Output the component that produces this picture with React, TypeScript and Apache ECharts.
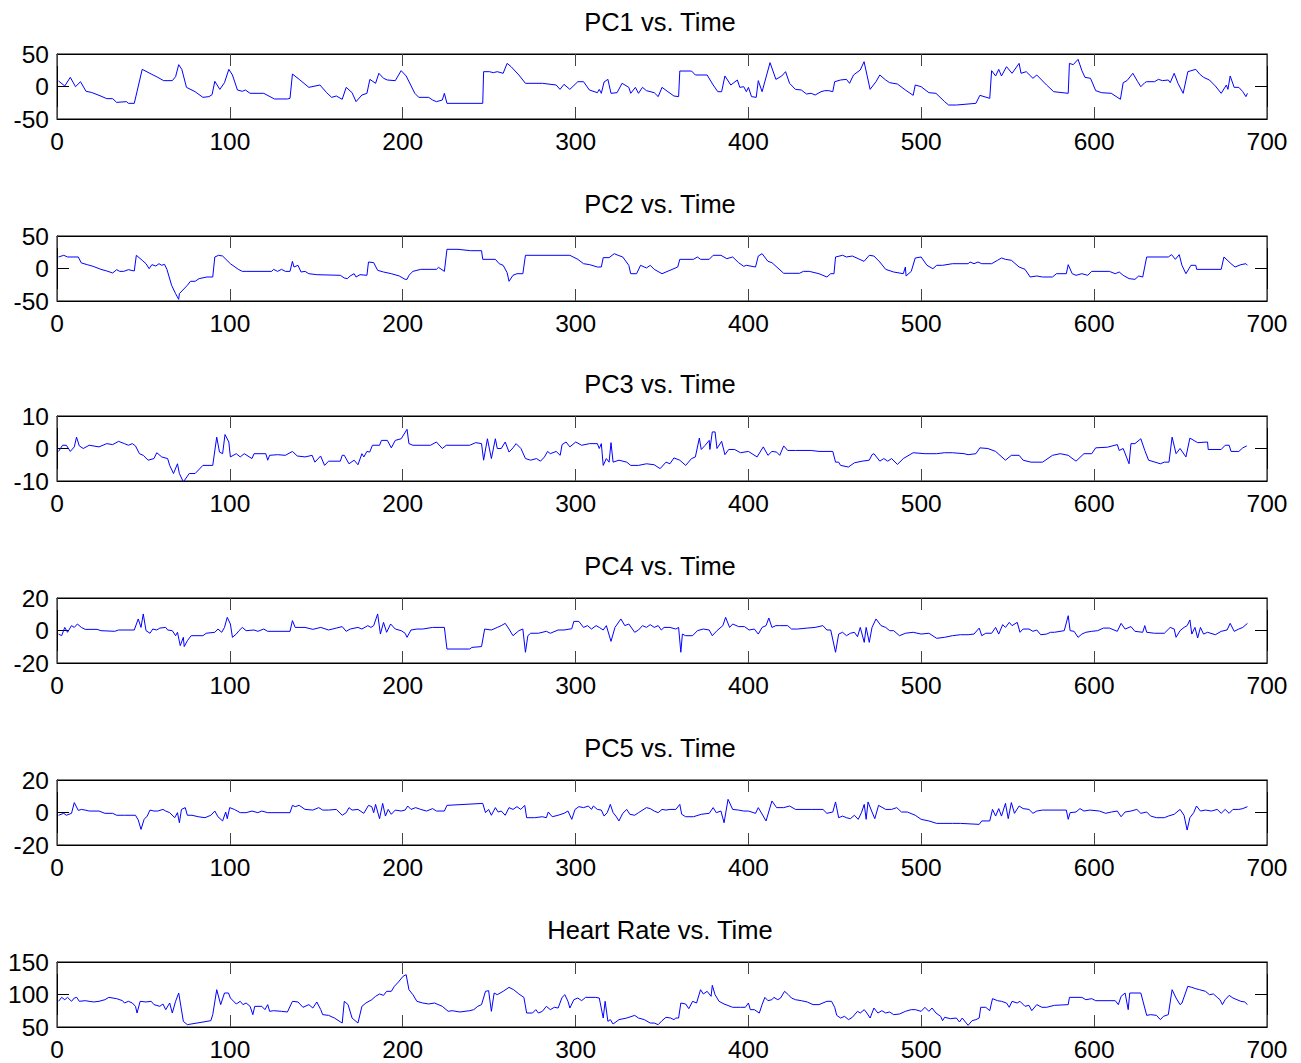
import React, { useEffect, useRef } from "react";
import * as echarts from "echarts";

const titles = ["PC1 vs. Time", "PC2 vs. Time", "PC3 vs. Time", "PC4 vs. Time", "PC5 vs. Time", "Heart Rate vs. Time"];
const xMin = 0;
const xMax = 700;
const xStep = 100;
const yMins = [-50, -50, -10, -20, -20, 50];
const yMaxs = [50, 50, 10, 20, 20, 150];
const ySteps = [50, 50, 10, 20, 20, 50];

const pc1A = [[0.9,8.5],[4.5,0.8],[7.7,14.1],[10.7,-0.3],[13.6,7.4],[16.8,-7.4],[19.8,-9],[24.3,-13.6],[28.8,-18.7],[32.2,-18.7],[34.5,-24.4],[40.2,-23.3],[41.3,-25.9],[44.7,-25.9],[49.3,26.4],[54.5,19.2],[58.3,14.1],[61.7,9],[66.7,9],[68.6,15.1],[70.4,33.6],[72.2,26.4],[74.9,-1.3],[79.9,-8],[84.4,-16.7],[87.9,-15.6],[89.7,-12.6],[91.3,8],[94.2,-4.4],[96.9,5.9],[99.4,26.4],[101.5,17.7],[104.4,-5.4],[107.2,-7.4],[109,-5.4],[111.7,-10.5],[119.6,-10.5],[125.8,-19.2],[133.3,-19.2],[134.8,-18.2],[136.2,19.2],[140.1,11],[145.7,-1.3],[152.1,2.3],[156,-9.5],[158.9,-16.7],[161.6,-14.6],[165,-19.7],[167.3,-1.3],[170.7,-9.5],[173,-23.3],[176.4,-13.1],[179.3,-10.5],[181,11],[184.3,4.9],[186.2,20.3],[188.9,12.6],[191.1,10],[195.7,9],[199.1,24.4],[202,16.2],[207,-10.5],[209.3,-16.7],[215,-16.7],[217.3,-20.8],[219.5,-23.3],[222.9,-20.8],[224.1,-10.5],[225.6,-25.9],[246.3,-25.9],[246.8,22.8],[250.2,22.8],[252.4,21.3],[254.7,22.8],[258.1,20.3],[260.4,35.6],[262.7,30.5],[267.2,17.7],[271,4.9],[280.8,4.9],[288.8,2.3],[291,-4.4],[293.3,3.3],[296.7,-4.4],[301.3,7.4],[304.6,7.4],[308,-5.4],[312.6,-9.5],[313.7,-4.4],[314.9,-10.5],[316.5,6.9],[318.7,11],[320.5,-10.5],[324,-9.5],[326.9,4.9],[330.8,-1.3],[331.9,-10.5],[334.6,-1.3],[336.4,-10.5],[338.7,-1.3],[341,-6.4],[345.5,-9.5]];
const pc1B = [[347.8,-15.6],[350,-1.3],[353.4,-8],[356.9,-14.6],[359.6,-15.6],[360.3,23.8],[367.1,23.8],[369.3,17.7],[376.1,17.7],[379.6,2.3],[382.3,-8],[384.5,-8],[386.4,16.2],[389.8,2.3],[393.6,10],[395,-1.3],[397.3,-0.3],[398.8,-8],[400,-1.3],[401.8,-15.6],[404.5,-16.7],[405.7,9],[407.9,-8],[412.5,36.7],[415.9,11],[419.3,16.2],[421.5,22.8],[423.8,4.9],[427.2,-4.4],[430.6,-5.4],[433.6,-11.5],[436.3,-10.5],[438.6,-13.1],[442,-8],[444.2,-6.4],[446.5,-6.4],[448.8,-8],[449.9,7.4],[453.3,10],[456.7,11],[458.5,4.9],[460.8,17.7],[464.7,25.4],[466.9,38.2],[470.4,-4.4],[473.8,7.4],[476,17.7],[479.4,10],[481.7,5.9],[486.2,3.8],[490.8,-5.4],[495.3,-13.6],[496.5,2.3],[499.9,-0.3],[504.4,-9.5],[508.5,-10.5],[513.5,-23.3],[515.8,-28.5],[520.3,-28.5],[531.6,-25.9],[533.9,-13.6],[539.6,-18.2],[540.7,24.4],[543,16.2],[544.8,26.4],[546.4,16.2],[549.3,30.5],[552.5,20.3],[556.6,35.6],[557.7,20.3],[560.7,22.8],[564.6,12.6],[566.8,17.7],[572.5,2.3],[576.6,-8],[585,-10.5],[585.7,35.6],[587.9,33.6],[590.7,41.8],[592.9,24.4],[594.7,14.1],[597.9,12.6],[600.9,-6.4],[604.3,-9.5],[609.9,-10.5],[615.2,-19.7],[616.8,5.9],[619,9],[622.4,20.3],[625.2,7.4],[627,-0.3],[629.3,5.9],[630.4,7.4],[634.9,7.4],[637.2,11],[639.5,9],[642.9,10],[644,5.9],[646.3,20.3],[648.5,4.9],[651.5,-10.5],[654.2,22.8],[658.8,26.4],[661,19.2],[663.3,14.1],[666.7,10],[670.1,0.8],[673.5,-10.5],[676.5,2.3],[677.4,-4.4],[678.7,16.2],[681,-1.3],[683.7,-1.3],[686,-8],[687.8,-15.6],[688.7,-10.5]];

const pc2A = [[0.9,17.7],[3.9,20.3],[6.1,17.7],[12.3,17.7],[14.1,8.5],[17.5,5.9],[20.9,3.3],[25.4,-1.3],[28.8,-3.8],[32.2,-6.9],[34.5,-1.8],[36.3,-4.4],[38.6,-4.4],[41.3,-1.8],[44.7,-3.8],[45.9,20.3],[49.3,12.6],[51.5,7.4],[53.3,-0.3],[54.9,5.9],[57.2,3.8],[59,7.4],[60.6,4.9],[62.2,6.4],[63.6,-1.3],[66.3,-25.9],[68.6,-38.7],[70.4,-47.5],[70.8,-38.7],[75.4,-25.9],[77.2,-19.7],[79.9,-19.7],[82.2,-15.6],[86.7,-13.1],[90.1,-13.1],[91.3,17.7],[93.5,20.3],[95.8,19.2],[100.3,7.4],[104.9,-1.3],[107.2,-4.4],[109.4,-4.4],[124.2,-4.4],[125.3,-1.3],[127.6,-4.4],[129.9,-1.3],[132.1,-4.4],[134.8,-4.4],[136.2,11],[137.1,2.3],[139.4,4.9],[141.2,-5.4],[143.5,-4.4],[145.7,-8],[150.3,-9.5],[163.9,-10.5],[166.2,-14.6],[168,-15.6],[169.6,-11.5],[171.9,-8],[173,-13.1],[175.3,-9.5],[179.3,-10.5],[180.2,10],[183.2,9],[185.5,-2.8],[188.9,-5.4],[193.4,-8],[198,-11.5],[201.4,-16.7],[202.5,-16.7],[203.6,-10.5],[205.9,-4.4],[210.4,-1.3],[219.5,-1.3],[220.7,1.8],[224.1,-4.4],[225.6,29.5],[232,29.5],[239.3,27.4],[245.6,27.4],[246.3,14.1],[253.6,14.1],[255.8,7.4],[258.1,4.9],[260.4,-6.4],[261.5,-19.7],[263.8,-10.5],[266.1,-8],[269.5,-8],[271,20.3],[296.7,20.3],[301.3,14.1],[304.6,7.4],[308.2,5.9],[312.6,2.3],[314.9,2.3],[316,16.7],[319.4,16.7],[322.4,22.8],[324.6,20.3],[327.3,17.7],[330.8,4.9],[331.9,-8],[335.3,-8],[337.6,4.9],[341,0.8],[343.2,4.9]];
const pc2B = [[345.5,-1.3],[350,-8],[354.6,-2.8],[359.1,2.3],[360.3,14.1],[368.2,14.1],[370.5,17.7],[372.3,14.1],[377.3,14.1],[379.6,20.3],[384.1,20.3],[387.5,15.1],[390.9,17.7],[394.3,9],[397.3,3.3],[398.8,4.9],[404.1,2.3],[405.7,19.2],[407.9,22.8],[411.3,11],[413.6,9],[420.4,-7.4],[429.5,-7.4],[431.8,-4.4],[435.2,-4.4],[440.8,-8],[445.4,-13.1],[447.6,-8],[449.5,-8],[450.4,17.7],[454.5,20.3],[456.7,17.7],[460.1,19.2],[463.5,15.1],[466.9,11],[469.9,20.3],[472.6,19.2],[476,10],[479.4,-1.3],[484,-5.4],[489.6,-8],[490.8,2.3],[491.2,-11.5],[494.2,-4.4],[496.5,16.2],[499.9,17.7],[503.3,4.9],[506.7,-0.3],[508.9,4.9],[512.3,4.9],[518,7.4],[527.1,7.4],[528.2,10],[530.5,7.4],[532.8,10],[535,7.4],[540.7,7.4],[544.1,12.6],[546.4,16.2],[548.7,14.1],[552.1,12.6],[556.6,2.3],[560,-1.3],[563,-13.1],[566.8,-11.5],[570.2,-13.1],[575.9,-13.1],[578.2,-8],[583.9,-8],[585,5.9],[587.3,-8],[589.5,-10.5],[592.9,-8],[596.3,-10.5],[598.6,-4.4],[608.8,-4.4],[612.2,-8],[614.5,-5.4],[616.8,-10.5],[620.2,-15.6],[623.6,-16.7],[625.8,-11.5],[628.1,-13.1],[630.4,17.7],[642.9,17.7],[644.8,21.3],[647,14.1],[649.2,21.3],[650.8,4.9],[653.1,-8],[656,4.9],[658.8,4.9],[659.3,-1.3],[673.5,-1.3],[675.1,17.7],[679.2,7.4],[681.5,2.3],[684.9,5.9],[687.8,7.4],[688.7,4.9]];

const pc3A = [[0.9,-0.9],[3.2,1],[5.4,1],[7.7,-0.9],[10,0.5],[11.3,3.5],[12.9,0.8],[15.2,0],[18.6,1],[24.3,0.5],[28.8,1.5],[32.2,1.2],[35.6,2.2],[39,1.5],[41.3,1],[43.6,1.5],[45.4,0.8],[47.7,-1.6],[49.9,-2.1],[52.7,-3.6],[56.1,-3.1],[57.7,-1.3],[60.6,-2.6],[64,-3.1],[65.2,-5.2],[67.4,-7.7],[69.7,-4.7],[70.8,-7.7],[73.1,-10.3],[76.5,-7.7],[79.9,-7.7],[84.4,-5.2],[90.1,-5.2],[92.4,3.5],[94,-1.1],[95.8,-1.6],[97.2,4.3],[99.4,2],[100.3,-2.6],[103.7,-1.6],[106,-2.6],[108.3,-1.6],[112.8,-3.1],[114,-1.6],[120.8,-1.6],[121.9,-3.6],[123,-2.1],[127.6,-1.9],[132.1,-2.1],[136.2,-0.9],[139,-2.3],[143.5,-2.6],[147.6,-2.1],[149.2,-4.2],[152.5,-2.3],[154.8,-5.2],[157.1,-3.9],[163.9,-3.9],[165,-2.1],[166.2,-2.1],[168.9,-4.7],[171.9,-3.6],[174.1,-5],[176.4,-1.6],[177.5,-2.6],[179.3,-0.9],[180.9,-1.1],[182.5,1],[186.6,1],[187.7,2.5],[191.1,2.5],[193.4,0.2],[195.7,2.5],[199.1,3],[202.5,5.9],[203.6,1.5],[205.9,1],[216.1,1],[219.5,2],[222.9,0],[225.2,1],[236.6,1],[238.8,1],[242.2,1.8],[245.6,1.5],[246.8,-3.6],[249,3],[251.3,-3.1],[253.6,3],[254.7,0],[257,0],[259.3,2],[261.5,-1.1],[263.8,0.2],[265.6,1.5],[268.4,0],[271,-3.1],[274,-3.6],[277.4,-3.1],[279.7,-3.9],[282,-2.6],[283.8,-0.9],[285.4,-1.6],[288.8,-0.9],[291.1,-2.1],[292.2,1.2],[294.5,2],[296.7,0.5],[300.1,2],[303.5,1],[308.1,1.5],[312.6,1.5],[313.7,0],[314.9,1.5],[316,-5.2],[317.8,-3.1],[319.4,-4.2],[320.5,1.8],[321.7,-4.2],[325.1,-3.6],[329.6,-4.2],[331.9,-5.2],[336.4,-5.2],[341,-4.7],[345.5,-5]];
const pc3B = [[348.9,-6.2],[352.3,-4.2],[354.6,-4.7],[356.9,-2.9],[360.3,-3.6],[363.7,-5.2],[367.1,-3.1],[369.3,-2.6],[371.6,3.2],[372.7,-0.3],[375,1],[377.3,2.5],[377.7,-0.3],[379.1,5.1],[380.7,5.1],[381.8,0],[384.5,2.2],[386.4,-1.9],[388.6,-0.3],[392,-0.3],[395.4,-1.3],[400,-0.9],[405,-2.6],[408.6,0.5],[411.3,-2.1],[413.6,-0.9],[416.3,-1.1],[418.1,-2.1],[420.4,0.8],[422.7,-0.6],[427.2,-0.6],[436.3,-0.6],[440.8,-0.9],[448.8,-0.9],[450.4,-4.2],[452.2,-4.2],[453.3,-5.2],[457.9,-5.7],[461.3,-4.4],[465.8,-3.9],[469.9,-3.6],[471.5,-1.9],[472.6,-1.6],[476,-3.9],[478.3,-3.1],[480.6,-3.9],[482.8,-3.1],[486.2,-4.9],[489.6,-3.1],[495.3,-1.3],[502.1,-1.6],[508.9,-1.6],[513.5,-1.3],[518,-1.3],[524.8,-1.6],[527.1,-1.9],[531.6,-1.6],[533.9,0.2],[538.5,0],[543,-0.9],[548.7,-3.6],[552.1,-2.1],[556.6,-2.1],[558.9,-3.6],[563.4,-4.2],[570.2,-4.2],[575.9,-2.1],[580.4,-1.6],[585,-2.1],[589.5,-3.9],[594.1,-1.6],[598.6,-1.6],[600.9,0.2],[607.7,0.4],[613.4,1.2],[614.5,-0.6],[616.8,0],[620.2,-4.7],[621.3,1.5],[623.6,1.5],[627,3],[629.3,-0.6],[631.5,-3.6],[638.3,-4.7],[640.6,-4.2],[643.3,-4.2],[645.1,3.5],[647.4,-1.6],[649.7,0],[653.1,-2.6],[655.4,3.2],[659.9,1.8],[665.6,2],[666,-0.3],[673.5,-0.3],[675.8,1],[678.1,1],[679.2,-0.9],[683.7,-0.9],[686,0.2],[688.3,0.8]];

const pc4A = [[0.9,-2.2],[2.7,-3.2],[4.5,1.9],[6.1,-1.1],[8.4,3],[10,1.9],[11.8,4],[14.1,1.9],[16.3,0.7],[23.2,0.7],[25.4,-0.1],[33.4,-0.5],[35.6,0.3],[44.7,0.3],[47,7.1],[48.6,1.9],[49.9,10.2],[51.5,-0.1],[53.8,-1.7],[55.4,0.9],[57.7,0.3],[59.5,1.5],[62.9,1.9],[64,0.3],[66.7,-0.1],[68.6,-3.2],[69.7,-1.1],[71.3,-9.3],[73.1,-4.2],[73.6,-9.9],[75.4,-6.3],[77.6,-3.2],[84.4,-3.2],[86.3,-1.7],[91.3,-1.1],[93.1,0.9],[95.3,-1.1],[96.9,1.9],[98.5,8.1],[100.3,4],[101.5,-4.2],[103.7,-2.2],[105.3,-0.1],[107.2,1.9],[109.4,-0.1],[114,0.3],[116.2,-0.5],[119.6,0.9],[121.9,-0.5],[134.8,-0.5],[136.2,6.1],[137.8,1.9],[143.5,1.9],[148,0.7],[152.6,1.9],[157.1,0.3],[161.6,1.5],[165,2.4],[167.3,-0.5],[169.6,0.9],[174.1,1.9],[176.4,0.9],[179.8,3],[181.6,1.9],[183.2,3],[185.5,10.2],[187.1,-2.2],[188.9,5],[190.7,-1.1],[193,4],[195.7,0.9],[199.1,-0.1],[201.4,-1.7],[202.5,-4.2],[204.8,0.3],[208.2,0.9],[211.6,0.9],[217.3,1.9],[224.1,1.9],[225.6,-11.4],[238.8,-11.4],[240,-10.4],[245.6,-9.9],[247.4,0.9],[251.3,0.3],[254.7,1.9],[257,3],[259.3,4.4],[261.5,0.9],[263.8,-3.2],[267.2,-0.1],[269.5,0.9],[271,-13.4],[272.4,-3.2],[274,-1.7],[278.5,-1.7],[283.1,-0.5],[285.4,-1.7],[289.9,0.3],[293.3,0.3],[297.8,1.1],[299,5.6],[301.9,5.6],[304.6,1.9],[306.9,3],[309.2,0.9],[311.9,3],[313.7,1.9],[316,0.3],[317.8,3],[320.5,-6.7],[322.8,1.9],[326.2,7.1],[328.5,3],[330.8,4],[334.2,-1.1],[336.4,0.3],[338.7,3],[341,1.9],[343.2,3.6]];
const pc4B = [[345.5,1.9],[347.8,3],[349.6,0.3],[351.2,1.9],[354.6,1.9],[358,0.9],[359.6,1.9],[360.9,-13.4],[361.8,-2.2],[363.7,-3.2],[367.7,-3.2],[370.5,-0.1],[373.9,0.9],[377.3,0.3],[379.1,-3.2],[381.8,-0.1],[385.2,3],[386.8,8.1],[389.1,1.9],[390.9,4],[394.3,2.4],[397.7,2.4],[400.4,0.3],[403.4,0.9],[405.7,-2.2],[407.9,1.9],[410.2,3],[411.8,7.7],[413.6,1.9],[415.9,3],[418.1,3],[422.7,3],[424.9,0.9],[428.4,0.9],[434,1.5],[438.6,1.9],[443.1,3],[445.4,0.3],[447.6,0.3],[450.4,-13.4],[452.2,-2.2],[454.5,-1.1],[456.7,-3.2],[459,-1.7],[461.3,-1.1],[463.1,-3.8],[464.7,1.9],[467,-7.3],[468.1,1.9],[469.9,-7.3],[471.5,1.9],[473.8,7.1],[476.7,3],[479.4,1.9],[481.7,-0.1],[484,-0.1],[487.4,-3.2],[490.8,-1.7],[495.3,-1.1],[499.9,-2.2],[504.4,-1.7],[508.9,-4.8],[513.5,-4.2],[518,-3.2],[522.6,-2.6],[527.1,-2.6],[530.5,-2.2],[533.5,1.5],[535,-3.2],[537.3,-1.7],[540.7,-1.7],[543,1.9],[544.8,-2.2],[547.1,3.6],[548.7,1.9],[550.9,5],[552.5,3],[555.5,5],[557.1,-1.1],[558.9,0.9],[562.3,0.9],[564.6,-0.5],[566.8,0.3],[569.1,-2.6],[572.5,-2.2],[574.8,-1.1],[577,-1.1],[582.7,-0.1],[585,9.1],[586.1,-0.1],[588.4,-0.5],[590.7,-4.2],[592.9,-2.2],[595.2,-1.1],[598.6,-0.5],[602,-0.1],[605.4,1.5],[608.8,1.5],[613.4,-0.5],[615.6,4.4],[617.9,0.9],[621.3,2.4],[623.6,-0.5],[628.1,-1.1],[629.3,3],[630.4,-1.1],[634.9,-1.7],[640.6,-1.7],[644,1.9],[646.3,0.9],[647.4,-4.2],[649.7,-0.1],[652,1.9],[653.8,3],[655.4,6.5],[656.5,-2.2],[658.3,1.9],[659.9,-4.6],[661.5,1.9],[663.3,-2.2],[665.6,-1.1],[670.1,-2.6],[673.5,-0.5],[676.9,0.3],[678.7,4.4],[681,-0.5],[683.7,0.9],[686,1.9],[688.7,4.4]];

const pc5A = [[0.9,-1.7],[3.9,-0.5],[5.4,-1.7],[8.4,-0.5],[10,6.1],[12.3,1.3],[14.1,1.9],[16.3,1.5],[18.6,0.9],[24.3,0.9],[27.7,-0.5],[32.2,-0.5],[34.5,-1.7],[39,-1.7],[45.4,-1.7],[47,-4.6],[48.6,-10.4],[50.4,-4.2],[52.2,-2.2],[53.8,1.5],[56.1,0.9],[58.3,0.9],[61.3,1.9],[62.9,0.9],[65.2,-0.1],[68.1,-3.2],[69.7,-0.1],[70.8,-6.3],[72,1.9],[74.2,3],[75.4,-1.7],[78.1,-1.7],[81.7,-2.6],[85.6,-3.2],[89,-1.7],[91.3,0.9],[93.1,-2.6],[95.8,-5.2],[97.6,0.3],[98.5,-3.8],[99.9,3],[102.6,1.9],[106,-0.1],[109.4,-0.1],[112.8,0.9],[116.2,-0.1],[118.5,0.9],[121.9,-0.1],[134.8,-0.1],[136.2,4.4],[137.8,3.6],[140.1,4.4],[143.5,1.9],[148,1.5],[151.4,3],[153.7,1.5],[157.1,1.5],[161.6,1.9],[165,-1.7],[167.3,-0.1],[168.9,3],[170.7,1.5],[174.1,1.9],[177.5,-0.5],[180.2,4.4],[182.1,3.6],[183.2,-0.1],[184.3,5],[186.6,-3.8],[188.4,5.6],[190,-2.2],[191.6,1.9],[193.4,-1.1],[195.7,1.5],[199.1,0.9],[201.4,1.5],[202.9,4],[204.8,1.9],[207.5,3],[210.4,1.9],[213.8,0.9],[217.3,2.4],[219.5,0.9],[224.1,0.9],[225.6,4.4],[246.3,5.6],[247.9,-0.1],[249.7,1.9],[251.3,-1.7],[253.6,3],[255.2,0.3],[257,0.9],[259.3,-1.7],[261.5,3],[263.8,1.9],[266.1,3.6],[268.3,1.9],[270.6,4.4],[271.7,-3.2],[276.3,-3.2],[280.8,-2.6],[283.1,-3.2],[284.2,0.3],[286.5,-2.6],[289.9,-1.7],[293.3,-0.5],[295.6,0.9],[297.8,-4.2],[299.7,1.9],[301.9,3.6],[304.6,3],[307.4,4],[309.2,1.9],[310.3,4],[312.6,1.9],[314.9,1.5],[316.5,-2.2],[318.3,-0.1],[320.1,5],[321.7,-0.1],[323.3,-2.2],[325.1,-5.2],[327.3,-0.5],[329.6,1.9],[331.4,-1.1],[334.2,-1.7],[336.4,-0.1],[341,3],[343.2,2.4]];
const pc5B = [[345.5,0.9],[347.8,-0.1],[350,1.9],[352.3,1.5],[354.6,1.9],[358,1.9],[360.3,5],[361.4,-1.1],[363.7,-2.6],[368.2,-2.6],[372.7,-1.1],[377.3,-0.5],[379.6,3],[381.4,-0.1],[384.1,0.9],[385.9,-6.3],[388.2,8.1],[390.9,1.9],[394.3,1.5],[397.3,0.9],[400,0.9],[404.1,-0.5],[405.7,3],[407.2,0.3],[410.2,-5.2],[413.6,7.1],[416.3,3],[420.4,3],[423.8,4],[427.2,1.9],[436.3,1.9],[443.1,1.9],[445.4,-0.5],[448.8,0.3],[450.4,6.5],[452.2,-3.2],[454.5,-2.2],[456.7,-3.2],[459,-3.8],[461.3,-1.7],[463.5,-4.2],[465.4,-0.1],[467,5],[468.1,-4.2],[469.2,6.5],[471.5,0.3],[473.1,-3.8],[475.3,4.4],[479.4,1.9],[482.8,1.9],[485.8,3],[488.5,0.3],[491.9,0.3],[496.5,-1.7],[499.9,-4.2],[504.4,-5.2],[508.9,-6.7],[518,-6.7],[522.6,-6.7],[533.5,-7.3],[535,-5.2],[539.6,-5.2],[541.2,1.9],[543,-2.2],[544.8,2.4],[546.4,-2.2],[548.7,5.6],[550.3,-3.8],[552.1,6.1],[553.9,-0.5],[556.6,4],[558.9,2.4],[562.3,1.9],[564.6,-0.5],[566.8,0.9],[570.2,1.5],[583.9,1.5],[585,-4.2],[586.1,-0.1],[589.5,0.3],[591.8,2.4],[594.1,0.9],[597.5,1.5],[603.1,0.9],[606.6,-0.5],[610,0.3],[613.4,0.9],[615.6,-2.6],[617.9,0.3],[621.3,0.9],[624.7,1.9],[627,-0.5],[630.4,0.3],[632.7,-2.2],[636.1,-3.2],[640.6,-3.2],[642.9,-2.2],[646.3,-1.1],[649.7,1.9],[652,-1.7],[653.8,-10.8],[655.4,-3.2],[657.6,-0.1],[659.2,4],[661.5,0.9],[664.4,1.5],[667.8,0.9],[671.2,1.9],[673.5,-0.5],[675.8,1.9],[678.1,-0.5],[680.3,1.9],[683.7,1.9],[686,2.4],[688.7,3.6]];

const hrA = [[0.9,89.5],[2.7,95.6],[4.5,92],[6.1,95.6],[8.4,89.5],[10,94.6],[11.4,95.6],[12.9,89.5],[16.3,90.5],[18.6,89.5],[21.3,88.5],[24.3,89.5],[27.7,92],[30,95.6],[34.5,93.6],[37.9,90.5],[39,86.9],[41.3,89.5],[43.6,86.9],[45.4,81.8],[46.3,71.5],[48.1,89.5],[51.5,88.5],[54.5,89.5],[56.1,84.4],[59.5,81.8],[61.3,85.4],[62.9,76.7],[65.2,86.9],[66.7,71.5],[68.6,89.5],[70.4,102.3],[73.1,58.7],[75.4,53.6],[77.6,54.6],[81,56.1],[89,59.7],[90.1,69],[92.4,107.4],[94.7,84.4],[96.9,102.3],[99.2,102.3],[100.3,94.6],[103.7,85.4],[106,89.5],[107.6,84.4],[109.4,86.9],[111.7,81.8],[113.3,69],[114.4,81.8],[118.5,81.8],[120.3,76.7],[121.9,84.4],[123,74.1],[125.3,75.1],[129.9,74.1],[133.3,73.1],[136.2,89.5],[139.4,88.5],[142.3,80.3],[145.7,84.4],[148,79.2],[150.3,88.5],[152.6,76.7],[153.7,69],[157.1,67.9],[160.5,63.8],[165,56.1],[166.2,89.5],[168.4,84.4],[170.7,63.8],[174.1,56.1],[176.4,81.8],[178.7,86.9],[182.1,92],[184.3,97.2],[186.6,100.8],[188.9,98.7],[190.7,104.9],[193.4,104.9],[195.2,112.6],[197.5,119.2],[200.2,128],[202,130.5],[203.6,107.4],[205.9,99.7],[208.2,89.5],[211.6,86.9],[215,85.4],[218.4,86.9],[222.9,81.8],[226.3,74.1],[228.6,75.1],[233.1,73.1],[238.8,75.1],[241.1,76.7],[243.4,81.8],[245.6,84.4],[247.9,104.9],[249.7,105.9],[251.3,74.1],[252.9,102.3],[254.7,99.7],[258.1,104.9],[261.5,111],[264.2,107.4],[267.2,100.8],[270.1,95.6],[271.7,71.5],[275.1,71.5],[277,76.7],[278.5,71.5],[280.8,74.1],[283.1,81.8],[285.4,76.7],[287.7,80.3],[289.9,79.2],[292.2,95.6],[293.8,99.7],[295.6,89.5],[296.7,79.2],[299,92],[301.3,94.6],[303.5,90.5],[305.8,95.6],[311.5,95.6],[313.7,94.6],[316,63.8],[317.1,89.5],[318.7,58.7],[320.1,61.3],[321.7,54.6],[325.1,61.3],[329.6,63.8],[334.2,67.9],[336.4,63.8],[339.8,61.3],[343.2,56.1]];
const hrB = [[345.5,56.1],[347.8,53.6],[350,59.7],[352.3,64.9],[355,63.8],[356.9,61.3],[358,63.8],[359.6,63.8],[360.9,86.9],[363.7,85.4],[365.5,78.2],[367.7,89.5],[370,86.9],[372.3,107.4],[373.9,100.8],[376.1,104.9],[378.4,97.2],[379.1,114.1],[380.7,99.7],[383,89.5],[385.9,85.4],[390.9,80.3],[395.4,80.3],[398.2,80.3],[400,86.9],[401.1,76.7],[403.4,76.7],[406.3,71.5],[407.9,84.4],[409.5,95.6],[411.3,90.5],[413.6,92],[414.7,95.6],[417,92],[418.6,94.6],[420.9,104.9],[423.1,99.7],[424.9,94.6],[427.2,92],[430.6,90.5],[434,88.5],[437.4,84.4],[440.8,84.4],[445.4,89.5],[448.1,89.5],[449.9,80.3],[451.1,67.9],[453.3,63.8],[455.6,66.4],[457.9,61.3],[460.1,64.9],[463.1,74.1],[464.7,71.5],[467,76.7],[468.5,71.5],[470.4,63.8],[472.6,79.2],[474.9,71.5],[477.2,75.1],[479.4,71.5],[481.7,73.1],[484,69],[487.4,70],[490.8,74.1],[494.2,76.7],[496.5,76.7],[499.9,74.1],[502.1,80.3],[504.4,74.1],[506.2,79.2],[508.5,71.5],[511.2,66.4],[512.3,59.7],[513.5,64.9],[516.9,62.8],[520.3,63.8],[522.1,57.7],[523.7,63.8],[526,56.1],[527.1,52.6],[529.4,59.7],[531.6,61.3],[533.5,63.8],[534.4,80.3],[537.3,80.3],[539.6,75.1],[541.2,93.6],[544.1,90.5],[546.4,89.5],[549.3,86.9],[550.9,80.3],[552.5,89.5],[555.5,86.9],[557.1,89.5],[560,81.8],[562.3,83.3],[563.9,75.1],[566.8,84.4],[569.8,80.3],[572.5,80.3],[577,83.3],[585,84.4],[585.7,95.6],[592.9,95.6],[595.2,92],[598.6,93.6],[600.9,90.5],[612.2,90.5],[614,84.4],[615.6,97.2],[617.9,102.3],[619.7,76.7],[620.6,102.3],[627,102.3],[630.4,67.9],[632.7,69],[636.1,67.9],[638.3,61.3],[640.1,66.4],[642.9,69],[645.1,107.4],[647.4,94.6],[649.7,84.4],[650.8,86.9],[654.2,112.6],[656.5,111],[658.8,108.9],[661,107.4],[664.4,104.9],[666.7,99.7],[669,100.8],[671.2,95.6],[672.8,92],[674.2,84.4],[675.8,92],[678.1,98.7],[680.3,94.6],[682.6,92],[684.9,89.5],[687.1,88.5],[688.7,84.4]];

const seriesData = [
  [...pc1A, ...pc1B],
  [...pc2A, ...pc2B],
  [...pc3A, ...pc3B],
  [...pc4A, ...pc4B],
  [...pc5A, ...pc5B],
  [...hrA, ...hrB],
];

const FONT = 'Arial, "Liberation Sans", Helvetica, sans-serif';
const GRID_TOPS = [54, 236, 416, 598, 780, 962];
const GRID_H = 65;
const GRID_LEFT = 57;
const GRID_RIGHT = 34;
const TICK_LEN = 12;
const LABEL_SIZE = 24.5;
const TITLE_SIZE = 25.5;

export default function App() {
  const ref = useRef<HTMLDivElement>(null);
  useEffect(() => {
    document.body.style.margin = "0";
    if (!ref.current) return;
    const chart = echarts.init(ref.current, null, { renderer: "svg" });
    const grid: any[] = [];
    const xAxis: any[] = [];
    const yAxis: any[] = [];
    const series: any[] = [];
    const graphic: any[] = [];
    const n = titles.length;
    for (let i = 0; i < n; i++) {
      grid.push({
        left: GRID_LEFT,
        right: GRID_RIGHT,
        top: GRID_TOPS[i],
        height: GRID_H,
        show: true,
        borderColor: "#000",
        borderWidth: 1,
        backgroundColor: "#fff",
      });
    }
    const lineCommon = { show: true, onZero: false, lineStyle: { color: "#000", width: 1 } };
    for (let i = 0; i < n; i++) {
      xAxis.push({
        type: "value",
        gridIndex: i,
        position: "bottom",
        min: xMin,
        max: xMax,
        interval: xStep,
        axisLine: lineCommon,
        axisTick: { show: true, inside: true, length: TICK_LEN, lineStyle: { color: "#444", width: 1 } },
        axisLabel: { show: true, color: "#000", fontSize: LABEL_SIZE, fontFamily: FONT, margin: 10, showMinLabel: true, showMaxLabel: true },
        splitLine: { show: false },
      });
    }
    for (let i = 0; i < n; i++) {
      xAxis.push({
        type: "value",
        gridIndex: i,
        position: "top",
        min: xMin,
        max: xMax,
        interval: xStep,
        axisLine: lineCommon,
        axisTick: { show: true, inside: true, length: TICK_LEN, lineStyle: { color: "#444", width: 1 } },
        axisLabel: { show: false },
        splitLine: { show: false },
      });
    }
    for (let i = 0; i < n; i++) {
      yAxis.push({
        type: "value",
        gridIndex: i,
        position: "left",
        min: yMins[i],
        max: yMaxs[i],
        interval: ySteps[i],
        axisLine: lineCommon,
        axisTick: { show: true, inside: true, length: TICK_LEN, lineStyle: { color: "#000", width: 1 } },
        axisLabel: { show: true, color: "#000", fontSize: LABEL_SIZE, fontFamily: FONT, margin: 8, showMinLabel: true, showMaxLabel: true },
        splitLine: { show: false },
      });
    }
    for (let i = 0; i < n; i++) {
      yAxis.push({
        type: "value",
        gridIndex: i,
        position: "right",
        min: yMins[i],
        max: yMaxs[i],
        interval: ySteps[i],
        axisLine: lineCommon,
        axisTick: { show: true, inside: true, length: TICK_LEN, lineStyle: { color: "#000", width: 1 } },
        axisLabel: { show: false },
        splitLine: { show: false },
      });
    }
    for (let i = 0; i < n; i++) {
      series.push({
        type: "line",
        name: titles[i],
        xAxisIndex: i,
        yAxisIndex: i,
        data: seriesData[i],
        showSymbol: false,
        symbol: "none",
        lineStyle: { color: "#0000ff", width: 1 },
        itemStyle: { color: "#0000ff" },
        z: 3,
      });
      graphic.push({
        type: "text",
        x: GRID_LEFT + (1301 - GRID_LEFT - GRID_RIGHT) / 2 - 2,
        y: GRID_TOPS[i] - 32,
        style: {
          text: titles[i],
          fill: "#000",
          fontSize: TITLE_SIZE,
          fontFamily: FONT,
          textAlign: "center",
          textVerticalAlign: "middle",
        },
      });
    }
    chart.setOption({
      animation: false,
      backgroundColor: "#fff",
      grid,
      xAxis,
      yAxis,
      series,
      graphic,
    });
    return () => chart.dispose();
  }, []);
  return <div ref={ref} style={{ width: 1301, height: 1063 }} />;
}
